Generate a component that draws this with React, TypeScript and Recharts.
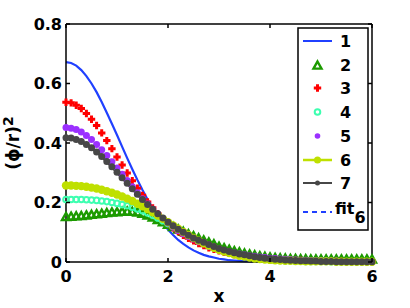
import { LineChart, Line, XAxis, YAxis, Legend } from "recharts";

const xs = [
  0, 0.1, 0.2, 0.3, 0.4, 0.5, 0.6, 0.7, 0.8, 0.9,
  1, 1.1, 1.2, 1.3, 1.4, 1.5, 1.6, 1.7, 1.8, 1.9,
  2, 2.1, 2.2, 2.3, 2.4, 2.5, 2.6, 2.7, 2.8, 2.9,
  3, 3.1, 3.2, 3.3, 3.4, 3.5, 3.6, 3.7, 3.8, 3.9,
  4, 4.1, 4.2, 4.3, 4.4, 4.5, 4.6, 4.7, 4.8, 4.9,
  5, 5.1, 5.2, 5.3, 5.4, 5.5, 5.6, 5.7, 5.8, 5.9, 6,
];

const s1 = [
  0.672, 0.669, 0.66, 0.645, 0.625, 0.6, 0.571, 0.538, 0.502, 0.465,
  0.427, 0.388, 0.349, 0.312, 0.276, 0.242, 0.21, 0.181, 0.154, 0.13,
  0.109, 0.091, 0.074, 0.061, 0.049, 0.039, 0.031, 0.024, 0.019, 0.015,
  0.011, 0.009, 0.006, 0.005, 0.004, 0.003, 0.002, 0.001, 0.001, 0.001,
  0, 0, 0, 0, 0, 0, 0, 0, 0, 0,
  0, 0, 0, 0, 0, 0, 0, 0, 0, 0, 0,
];

const s2 = [
  0.15, 0.151, 0.152, 0.153, 0.155, 0.157, 0.159, 0.161, 0.163, 0.165,
  0.166, 0.167, 0.168, 0.167, 0.165, 0.161, 0.155, 0.148, 0.14, 0.132,
  0.124, 0.116, 0.108, 0.1, 0.092, 0.085, 0.078, 0.071, 0.064, 0.058,
  0.05, 0.045, 0.04, 0.035, 0.031, 0.027, 0.024, 0.021, 0.018, 0.016,
  0.014, 0.012, 0.011, 0.01, 0.009, 0.009, 0.008, 0.008, 0.007, 0.007,
  0.007, 0.007, 0.007, 0.007, 0.007, 0.007, 0.007, 0.007, 0.007, 0.007, 0.007,
];

const s3 = [
  0.537, 0.535, 0.527, 0.516, 0.499, 0.48, 0.459, 0.434, 0.408, 0.381,
  0.353, 0.326, 0.299, 0.273, 0.248, 0.224, 0.202, 0.182, 0.162, 0.145,
  0.129, 0.115, 0.102, 0.09, 0.08, 0.071, 0.062, 0.055, 0.048, 0.043,
  0.038, 0.033, 0.029, 0.025, 0.022, 0.02, 0.017, 0.015, 0.013, 0.012,
  0.01, 0.009, 0.008, 0.007, 0.006, 0.005, 0.005, 0.004, 0.004, 0.003,
  0.003, 0.002, 0.002, 0.002, 0.002, 0.001, 0.001, 0.001, 0.001, 0.001, 0.001,
];

const s4 = [
  0.21, 0.21, 0.21, 0.21, 0.209, 0.208, 0.207, 0.205, 0.203, 0.2,
  0.197, 0.193, 0.189, 0.184, 0.178, 0.172, 0.165, 0.157, 0.148, 0.139,
  0.129, 0.119, 0.109, 0.099, 0.089, 0.08, 0.071, 0.063, 0.055, 0.048,
  0.042, 0.036, 0.031, 0.026, 0.022, 0.019, 0.016, 0.013, 0.011, 0.009,
  0.008, 0.006, 0.005, 0.004, 0.004, 0.003, 0.003, 0.002, 0.002, 0.002,
  0.002, 0.002, 0.001, 0.001, 0.001, 0.001, 0.001, 0.001, 0.001, 0.001, 0.001,
];

const s5 = [
  0.452, 0.45, 0.445, 0.437, 0.425, 0.412, 0.395, 0.377, 0.358, 0.337,
  0.316, 0.295, 0.274, 0.253, 0.233, 0.213, 0.195, 0.177, 0.161, 0.146,
  0.131, 0.118, 0.106, 0.095, 0.086, 0.077, 0.068, 0.061, 0.054, 0.048,
  0.043, 0.038, 0.034, 0.03, 0.027, 0.024, 0.021, 0.019, 0.017, 0.015,
  0.013, 0.012, 0.01, 0.009, 0.008, 0.007, 0.006, 0.006, 0.005, 0.004,
  0.004, 0.003, 0.003, 0.003, 0.002, 0.002, 0.002, 0.002, 0.001, 0.001, 0.001,
];

const s6 = [
  0.257, 0.257, 0.256, 0.255, 0.253, 0.25, 0.247, 0.243, 0.238, 0.233,
  0.227, 0.22, 0.213, 0.205, 0.196, 0.187, 0.177, 0.167, 0.156, 0.145,
  0.134, 0.123, 0.112, 0.101, 0.091, 0.081, 0.072, 0.063, 0.055, 0.048,
  0.041, 0.035, 0.03, 0.025, 0.021, 0.018, 0.015, 0.012, 0.01, 0.008,
  0.007, 0.006, 0.005, 0.004, 0.004, 0.003, 0.003, 0.002, 0.002, 0.002,
  0.002, 0.002, 0.002, 0.001, 0.001, 0.001, 0.001, 0.001, 0.001, 0.001, 0.001,
];

const s7 = [
  0.418, 0.417, 0.412, 0.405, 0.395, 0.384, 0.37, 0.355, 0.338, 0.32,
  0.302, 0.283, 0.265, 0.246, 0.228, 0.21, 0.193, 0.177, 0.162, 0.148,
  0.134, 0.122, 0.11, 0.1, 0.09, 0.081, 0.073, 0.066, 0.059, 0.052,
  0.045, 0.04, 0.035, 0.031, 0.027, 0.024, 0.021, 0.018, 0.015, 0.013,
  0.011, 0.009, 0.008, 0.007, 0.006, 0.005, 0.004, 0.004, 0.003, 0.003,
  0.002, 0.002, 0.002, 0.001, 0.001, 0.001, 0.001, 0.001, 0.001, 0.001, 0.001,
];

const fit6 = [
  0.254, 0.254, 0.253, 0.252, 0.25, 0.247, 0.244, 0.24, 0.235, 0.229,
  0.223, 0.216, 0.208, 0.2, 0.191, 0.182, 0.172, 0.162, 0.152, 0.141,
  0.13, 0.119, 0.108, 0.098, 0.088, 0.078, 0.069, 0.061, 0.053, 0.046,
  0.039, 0.033, 0.028, 0.024, 0.02, 0.016, 0.013, 0.011, 0.009, 0.007,
  0.006, 0.005, 0.004, 0.003, 0.003, 0.002, 0.002, 0.001, 0.001, 0.001,
  0.001, 0.001, 0.001, 0.001, 0.001, 0.001, 0.001, 0.001, 0.001, 0.001, 0.001,
];

const xTicks = [0, 2, 4, 6];
const yTicks = [0, 0.2, 0.4, 0.6, 0.8];
const names = ["1", "2", "3", "4", "5", "6", "7", "fit"];

const data = xs.map((x, i) => ({
  x,
  s1: s1[i],
  s2: s2[i],
  s3: s3[i],
  s4: s4[i],
  s5: s5[i],
  s6: s6[i],
  s7: s7[i],
  fit6: fit6[i],
}));

const BLUE = "#2040ff";
const GREEN = "#1c9a00";
const RED = "#ff0000";
const CYAN = "#3dffb0";
const PURPLE = "#9b30ff";
const YELLOW = "#bfe000";
const GREY = "#474747";

const font = {
  fontFamily: "'DejaVu Sans', sans-serif",
  fontWeight: "bold" as const,
  fontSize: 16,
  fill: "#000",
};

// marker shapes
const tri = (cx: number, cy: number, key?: any) => (
  <path
    key={key}
    d={`M${cx},${cy - 4.5}L${cx + 4},${cy + 2.6}L${cx - 4},${cy + 2.6}Z`}
    fill="none"
    stroke={GREEN}
    strokeWidth={2.4}
  />
);
const plus = (cx: number, cy: number, key?: any) => (
  <path
    key={key}
    d={`M${cx - 1.5},${cy - 3.7}h3v2.2h2.2v3h-2.2v2.2h-3v-2.2h-2.2v-3h2.2z`}
    fill={RED}
  />
);
const ring = (cx: number, cy: number, key?: any) => (
  <circle key={key} cx={cx} cy={cy} r={2.8} fill="none" stroke={CYAN} strokeWidth={2} />
);
const dot = (color: string, r: number) => (cx: number, cy: number, key?: any) => (
  <circle key={key} cx={cx} cy={cy} r={r} fill={color} />
);

const asDot = (fn: (cx: number, cy: number, key?: any) => any) => (p: any) =>
  p.cx == null ? <g key={p.index} /> : fn(p.cx, p.cy, p.index);

function LeftTick(props: any) {
  const { x, y, payload } = props;
  return (
    <g>
      <line x1={x + 4} x2={x + 8} y1={y} y2={y} stroke="#000" strokeWidth={1.5} />
      <text x={x} y={y} dy="0.36em" textAnchor="end" {...font}>
        {payload.value === 0 ? "0" : payload.value.toFixed(1)}
      </text>
    </g>
  );
}

function BottomTick(props: any) {
  const { x, y, payload } = props;
  return (
    <g>
      <line x1={x} x2={x} y1={y - 9} y2={y - 13} stroke="#000" strokeWidth={1.5} />
      <text x={x} y={y} dy="0.71em" textAnchor="middle" {...font}>
        {payload.value}
      </text>
    </g>
  );
}

function TopTick(props: any) {
  const { x, y } = props;
  return <line x1={x} x2={x} y1={y} y2={y + 4} stroke="#000" strokeWidth={1.5} />;
}

function RightTick(props: any) {
  const { x, y } = props;
  return <line x1={x} x2={x - 4} y1={y} y2={y} stroke="#000" strokeWidth={1.5} />;
}

function LegendBox() {
  const rows = [14, 38, 61, 85, 109, 133, 156, 181];
  const x0 = 6;
  const x1 = 35;
  const mx = 20.5;
  return (
    <svg width={72} height={204} style={{ display: "block" }}>
      <rect x={1} y={1} width={70} height={202} fill="#fff" stroke="#000" strokeWidth={1.5} />
      <line x1={x0} x2={x1} y1={rows[0]} y2={rows[0]} stroke={BLUE} strokeWidth={2} />
      {tri(mx, rows[1] + 1)}
      {plus(mx, rows[2])}
      {ring(mx, rows[3])}
      {dot(PURPLE, 2.8)(mx, rows[4])}
      <line x1={x0} x2={x1} y1={rows[5]} y2={rows[5]} stroke={YELLOW} strokeWidth={2.5} />
      {dot(YELLOW, 3.5)(mx, rows[5])}
      <line x1={x0} x2={x1} y1={rows[6]} y2={rows[6]} stroke={GREY} strokeWidth={2} />
      {dot(GREY, 2.5)(mx, rows[6])}
      <line
        x1={x0}
        x2={x1}
        y1={rows[7] + 4}
        y2={rows[7] + 4}
        stroke={BLUE}
        strokeWidth={2}
        strokeDasharray="5 4"
      />
      {names.map((n, i) => (
        <text key={n} x={i === 7 ? 38 : 43} y={rows[i]} dy="0.36em" {...font}>
          {n}
          {i === 7 && <tspan dy="0.55em">6</tspan>}
        </text>
      ))}
    </svg>
  );
}

export default function App() {
  return (
    <div style={{ position: "absolute", left: 0, top: 0, background: "#fff" }}>
      <LineChart
        width={410}
        height={308}
        data={data}
        margin={{ top: 23, right: 37, bottom: 0, left: 0 }}
      >
        <XAxis
          dataKey="x"
          type="number"
          domain={[0, 6]}
          ticks={xTicks}
          height={46}
          tickSize={0}
          tickMargin={9}
          tickLine={false}
          tick={<BottomTick />}
          axisLine={{ stroke: "#000", strokeWidth: 1.5 }}
          label={{
            content: (p: any) => (
              <text
                x={p.viewBox.x + p.viewBox.width / 2}
                y={p.viewBox.y + 40}
                textAnchor="middle"
                {...font}
                fontSize={17}
              >
                x
              </text>
            ),
          }}
        />
        <XAxis
          xAxisId="top"
          orientation="top"
          dataKey="x"
          type="number"
          domain={[0, 6]}
          ticks={xTicks}
          height={1}
          tickSize={0}
          tickMargin={0}
          tickLine={false}
          tick={<TopTick />}
          axisLine={{ stroke: "#000", strokeWidth: 1.5 }}
        />
        <YAxis
          type="number"
          domain={[0, 0.8]}
          ticks={yTicks}
          width={66}
          tickSize={0}
          tickMargin={4}
          tickLine={false}
          tick={<LeftTick />}
          axisLine={{ stroke: "#000", strokeWidth: 1.5 }}
          label={{
            content: (p: any) => {
              const cy = p.viewBox.y + p.viewBox.height / 2;
              return (
                <text
                  x={19}
                  y={cy}
                  textAnchor="middle"
                  transform={`rotate(-90, 19, ${cy})`}
                  {...font}
                  fontSize={17}
                >
                  (ϕ/r)
                  <tspan dy="-0.45em" fontSize={14}>
                    2
                  </tspan>
                </text>
              );
            },
          }}
        />
        <YAxis
          yAxisId="right"
          orientation="right"
          type="number"
          domain={[0, 0.8]}
          ticks={yTicks}
          width={1}
          tickSize={0}
          tickMargin={0}
          tickLine={false}
          tick={<RightTick />}
          axisLine={{ stroke: "#000", strokeWidth: 1.5 }}
        />
        <Legend
          layout="vertical"
          align="center"
          verticalAlign="middle"
          wrapperStyle={{ left: 297, top: 27, width: 72, height: 204 }}
          content={() => <LegendBox />}
        />
        <Line
          name="1"
          dataKey="s1"
          xAxisId="top"
          yAxisId="right"
          stroke={BLUE}
          strokeWidth={2.2}
          dot={false}
          isAnimationActive={false}
        />
        <Line
          name="2"
          dataKey="s2"
          stroke="none"
          dot={asDot(tri)}
          isAnimationActive={false}
        />
        <Line
          name="3"
          dataKey="s3"
          stroke="none"
          dot={asDot(plus)}
          isAnimationActive={false}
        />
        <Line
          name="4"
          dataKey="s4"
          stroke="none"
          dot={asDot(ring)}
          isAnimationActive={false}
        />
        <Line
          name="5"
          dataKey="s5"
          stroke="none"
          dot={asDot(dot(PURPLE, 3.5))}
          isAnimationActive={false}
        />
        <Line
          name="6"
          dataKey="s6"
          stroke={YELLOW}
          strokeWidth={3}
          dot={asDot(dot(YELLOW, 4.2))}
          isAnimationActive={false}
        />
        <Line
          name="7"
          dataKey="s7"
          stroke={GREY}
          strokeWidth={3}
          dot={asDot(dot(GREY, 3.5))}
          isAnimationActive={false}
        />
        <Line
          name="fit6"
          dataKey="fit6"
          stroke={BLUE}
          strokeWidth={2.5}
          strokeDasharray="8 4"
          dot={false}
          isAnimationActive={false}
        />
      </LineChart>
    </div>
  );
}
